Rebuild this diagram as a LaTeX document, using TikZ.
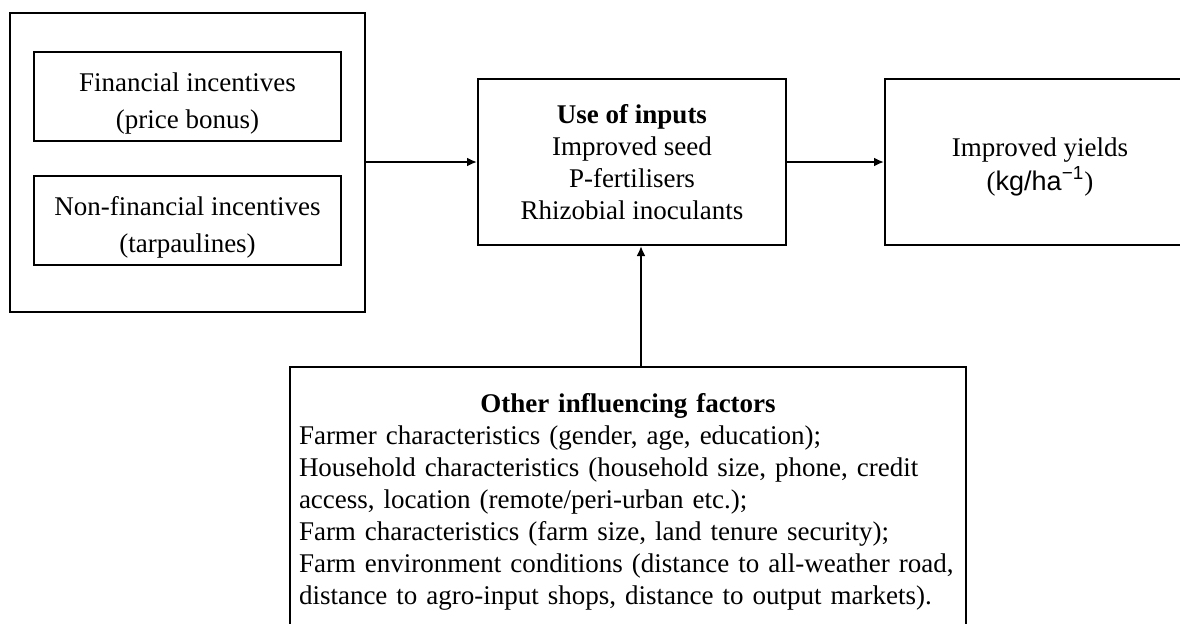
\documentclass[tikz,border=0pt]{standalone}
\usepackage{fontspec}
\setmainfont{Liberation Serif}
\newfontfamily\arialfont{Liberation Sans}
\usetikzlibrary{arrows.meta}

\begin{document}
\begin{tikzpicture}[x=0.5pt, y=-0.5pt,
		box/.style={draw, line width=1pt, align=center, inner sep=0pt,
			font=\fontsize{13.5}{16}\selectfont},
		incbox/.style={box, minimum width=153.5pt, minimum height=44.5pt,
			font=\fontsize{13.5}{18.5}\selectfont},
		arr/.style={line width=1pt, -{Latex[length=5pt, width=4.5pt]}}]
			%%%%% START %%%%%
			
			\useasboundingbox (0, 0) rectangle (1180, 623);
			
			% incentives
			\node[box, minimum width=177.5pt, minimum height=149.5pt] (incent) at (187.5, 162.5) {};
			\node[incbox] (finc) at (187.5, 96.5) {\rule{0pt}{16pt}Financial incentives\\(price bonus)};
			\node[incbox] (nfinc) at (187.5, 220.5) {\rule{0pt}{16pt}Non-financial incentives\\(tarpaulines)};
			
			% inputs and yields
			\node[box, minimum width=154pt, minimum height=83pt] (inputs) at (632, 162) {\textbf{Use of inputs}\\Improved seed\\P-fertilisers\\Rhizobial inoculants};
			\node[box, minimum width=155pt, minimum height=83pt, font=\fontsize{13.5}{17}\selectfont] (yields) at (1040, 162) {\rule{0pt}{14pt}Improved yields\\({\arialfont kg/ha\textsuperscript{−1}})};
			
			% other factors
			\node[box, anchor=north, text width=329pt, align=left, inner xsep=4.5pt, inner ysep=13pt] (other) at (628, 366) {%
				{\centering\textbf{Other influencing factors}\par}
				Farmer characteristics (gender, age, education);\\
				Household characteristics (household size, phone, credit\\
				access, location (remote/peri-urban etc.);\\
				Farm characteristics (farm size, land tenure security);\\
				Farm environment conditions (distance to all-weather road,\\
				distance to agro-input shops, distance to output markets).};
			
			% connectors
			\coordinate (vx) at (641, 0);
			\draw[arr] (incent.east |- inputs.west) -- (inputs.west);
			\draw[arr] (inputs.east) -- (yields.west);
			\draw[arr] (other.north -| vx) -- (inputs.south -| vx);
			
			%%%%% END %%%%%
\end{tikzpicture}
\end{document}
